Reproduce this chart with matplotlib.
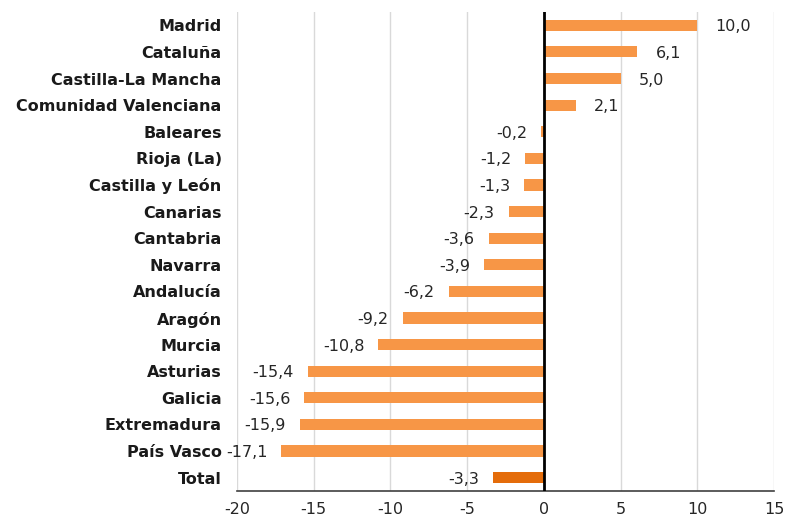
import matplotlib
matplotlib.use("Agg")
import matplotlib.pyplot as plt

regions = ["Madrid", "Cataluña", "Castilla-La Mancha", "Comunidad Valenciana",
           "Baleares", "Rioja (La)", "Castilla y León", "Canarias", "Cantabria",
           "Navarra", "Andalucía", "Aragón", "Murcia", "Asturias", "Galicia",
           "Extremadura", "País Vasco", "Total"]
values = [10.0, 6.1, 5.0, 2.1, -0.2, -1.2, -1.3, -2.3, -3.6, -3.9, -6.2,
          -9.2, -10.8, -15.4, -15.6, -15.9, -17.1, -3.3]
x_ticks = [-20, -15, -10, -5, 0, 5, 10, 15]

plt.rcParams["font.family"] = ["DejaVu Sans"]

fig = plt.figure(figsize=(7.91, 5.21), dpi=100)
ax = fig.add_axes([0.2996, 0.0576, 0.6789, 0.9194])

n = len(regions)
ypos = list(range(n - 1, -1, -1))
colors = ["#F79646"] * (n - 1) + ["#E46C0A"]
ax.barh(ypos, values, height=0.42, color=colors, zorder=3)

for y, v in zip(ypos, values):
    txt = f"{v:.1f}".replace(".", ",")
    if v >= 0:
        ax.annotate(txt, (v, y), xytext=(13, 0), textcoords="offset points",
                    ha="left", va="center_baseline", fontsize=11.5, color="#262626")
    else:
        ax.annotate(txt, (v, y), xytext=(-10, 0), textcoords="offset points",
                    ha="right", va="center_baseline", fontsize=11.5, color="#262626")

ax.set_xlim(-20, 15)
ax.set_ylim(-0.5, n - 0.5)
ax.set_xticks(x_ticks)
ax.set_xticklabels([str(t) for t in x_ticks], fontsize=11.5, color="#262626")
ax.set_yticks(ypos)
ax.set_yticklabels(regions, fontsize=11.5, fontweight="bold", color="#1a1a1a")
ax.tick_params(axis="y", length=0, pad=11)
ax.tick_params(axis="x", length=0, pad=8)

ax.grid(axis="x", color="#D9D9D9", linewidth=1, zorder=0)
ax.axvline(0, color="black", linewidth=2, zorder=4)
for s in ["top", "right", "left"]:
    ax.spines[s].set_visible(False)
ax.spines["bottom"].set_color("#404040")
ax.spines["bottom"].set_linewidth(1.2)

fig.savefig("out.png", dpi=100)
